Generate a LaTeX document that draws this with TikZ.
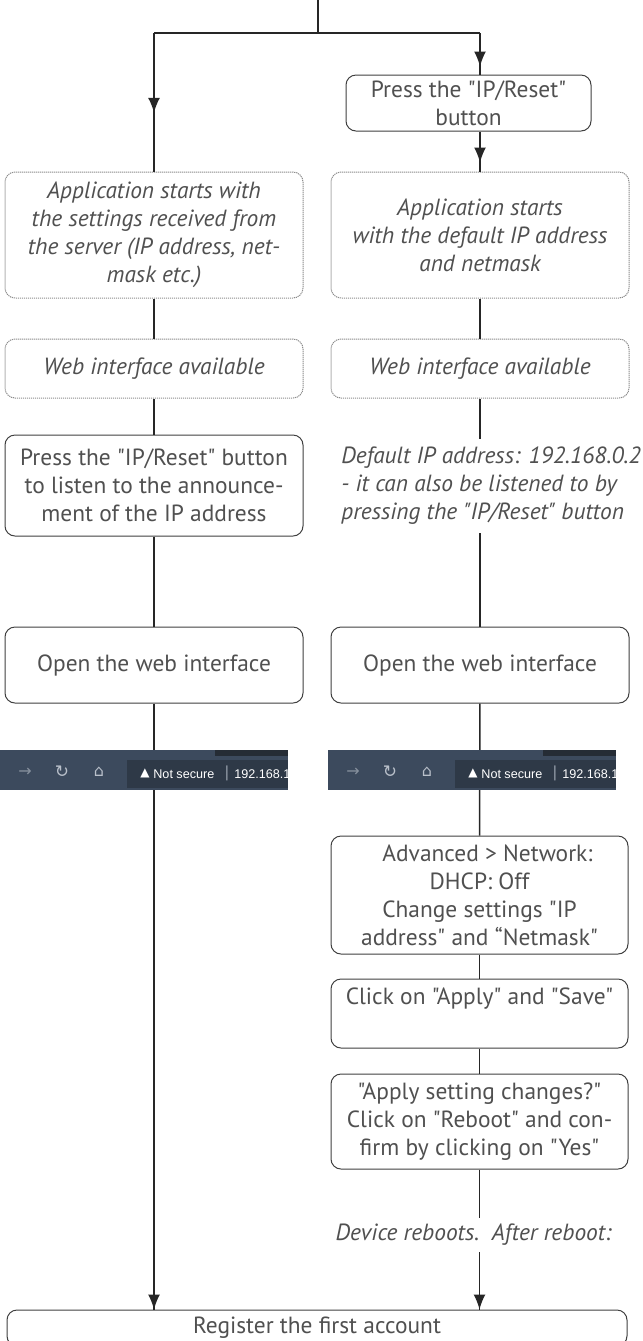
\documentclass[tikz,border=0pt]{standalone}
\usepackage{fontspec}
\setmainfont{PT Sans}[Ligatures=TeXOff]
\newfontfamily\symfont{DejaVu Sans}
\newfontfamily\uifont{Liberation Sans}
\usepackage{tikz}
\usetikzlibrary{arrows.meta}
\usetikzlibrary{decorations.markings}
\definecolor{boxtext}{HTML}{505050}
\definecolor{boxline}{HTML}{404040}
\definecolor{barbg}{HTML}{3C4A5D}
\definecolor{barfield}{HTML}{2E3947}
\definecolor{bartab}{HTML}{252C35}
\definecolor{baricon}{HTML}{B9C0CA}
\tikzset{arrowat/.style = {decoration={markings,
                                  mark=at position #1 with {\arrow{Latex[length=7.5pt,width=6pt]}}},
                      postaction={decorate}}}
\tikzset{link/.style = {draw=black!85, line width=0.75pt}}
\tikzset{stepbox/.style = {draw=boxline, line width=0.5pt, rounded corners=5pt, fill=white,
                           text=boxtext, align=center, inner sep=0,
                           font=\fontsize{11.7}{14}\selectfont}}
\tikzset{notebox/.style = {stepbox, draw=black!45, dash pattern=on 0.6pt off 0.4pt,
                           font=\fontsize{11.7}{14}\selectfont\itshape}}
\tikzset{note/.style = {text=boxtext, inner xsep=0, fill=white,
                        font=\fontsize{11.7}{14}\selectfont\itshape}}

\begin{document}
\begin{tikzpicture}[x=0.5pt, y=-0.5pt]
      \useasboundingbox (0, 0) rectangle (643, 1341);
      \clip (0, 0) rectangle (643, 1341);

      % boxes
      \node [stepbox, minimum width=122.5pt, minimum height=28pt] (rbtn) at (468.5, 103)
            {Press the "IP/Reset"\\button};
      \node [notebox, minimum width=149pt, minimum height=63pt] (lsrv) at (154, 235)
            {Application starts with\\the settings received from\\the server (IP address, net-\\mask etc.)};
      \node [notebox, minimum width=149pt, minimum height=63pt] (rstart) at (480, 235)
            {Application starts\\with the default IP address\\and netmask};
      \node [notebox, minimum width=149pt, minimum height=29.5pt] (lweb) at (154, 368.5)
            {Web interface available};
      \node [notebox, minimum width=149pt, minimum height=29.5pt] (rweb) at (480, 368.5)
            {Web interface available};
      \node [stepbox, minimum width=149pt, minimum height=50.5pt] (lpress) at (154, 485.5)
            {Press the "IP/Reset" button\\to listen to the announce-\\ment of the IP address};
      \node [note, align=left, anchor=west, inner ysep=4pt] (rdef) at (341, 486)
            {Default IP address: 192.168.0.2\\- it can also be listened to by\\pressing the "IP/Reset" button};
      \node [stepbox, minimum width=149pt, minimum height=38pt] (lopen) at (154, 665)
            {Open the web interface};
      \node [stepbox, minimum width=149pt, minimum height=38pt] (ropen) at (480, 665)
            {Open the web interface};
      \node [stepbox, minimum width=148.5pt, minimum height=59pt] (radv) at (479.5, 895)
            {\hspace*{8pt}Advanced > Network:\\DHCP: Off\\Change settings "IP\\address" and “Netmask"};
      \node [stepbox, minimum width=148.5pt, minimum height=34.5pt, text depth=17pt] (rapply) at (479.5, 1013.5)
            {Click on "Apply" and "Save"};
      \node [stepbox, minimum width=148.5pt, minimum height=47.5pt] (rreboot) at (479.5, 1121.5)
            {"Apply setting changes?"\\Click on "Reboot" and con-\\firm by clicking on "Yes"};
      \node [note, inner ysep=2pt, minimum height=17pt] (rboot) at (473.5, 1235)
            {Device reboots.\ \ After reboot:};
      \node [stepbox, minimum width=310pt, minimum height=18pt] (reg) at (317, 1328)
            {Register the first account};

      % connectors
      \coordinate (top) at (318, -2);
      \coordinate (split) at (318, 33);
      \coordinate (ljoin) at (lsrv.north |- split);
      \coordinate (rjoin) at (rstart.north |- split);
      \draw [link] (top) -- (split);
      \draw [link] (ljoin) -- (rjoin);
      \draw [link, arrowat=0.576] (ljoin) -- (lsrv.north);
      \draw [link, arrowat=-4pt] (rjoin) -- (rjoin |- rbtn.north);
      \draw [link, arrowat=-4.5pt] (rstart.north |- rbtn.south) -- (rstart.north);

      \draw [link] (lsrv) -- (lweb);
      \draw [link] (lweb) -- (lpress);
      \draw [link] (lpress) -- (lopen);
      \draw [link, arrowat=1] (lopen.south) -- (lopen.south |- reg.north);

      \draw [link] (rstart) -- (rweb);
      \draw [link] (rweb.south) -- (rweb.south |- rdef.north);
      \draw [link] (rweb.south |- rdef.south) -- (ropen.north);
      \draw [link] (ropen) -- (radv);
      \draw [link] (radv) -- (rapply);
      \draw [link] (rapply) -- (rreboot);
      \draw [link] (rreboot.south) -- (rreboot.south |- rboot.north);
      \draw [link, arrowat=1] (rreboot.south |- rboot.south) -- (rreboot.south |- reg.north);

      % browser bars
      \foreach \dx/\nm in {0/l, 328/r} {
        \begin{scope}[shift={(\dx, 0)}]
          \clip (0, 750) rectangle (288, 790);
          \fill [barbg] (0, 750) rectangle (288, 790);
          \fill [bartab] (215, 750) rectangle (288, 756);
          \fill [barfield] (127, 760) rectangle (288, 788);
          \node [text=baricon!60!barbg, font=\symfont\fontsize{8}{8}\selectfont] (\nm back) at (25, 772) {→};
          \node [text=baricon, font=\symfont\fontsize{8.5}{8.5}\selectfont] (\nm reload) at (62, 772) {↻};
          \node [text=baricon, font=\symfont\fontsize{8}{8}\selectfont] (\nm home) at (99, 772) {⌂};
          \node [text=white, font=\symfont\fontsize{6}{6}\selectfont] (\nm warn) at (145, 773) {▲};
          \node [text=white, anchor=west, inner sep=0, font=\uifont\fontsize{6.3}{6.3}\selectfont] (\nm secure) at (153, 774) {Not secure};
          \node [text=baricon!70!barbg, font=\uifont\fontsize{8}{8}\selectfont] (\nm sep) at (227, 773) {|};
          \node [text=white, anchor=west, inner sep=0, font=\uifont\fontsize{6.3}{6.3}\selectfont] (\nm url) at (234, 774) {192.168.1.};
        \end{scope}
      }
    \end{tikzpicture}
\end{document}
